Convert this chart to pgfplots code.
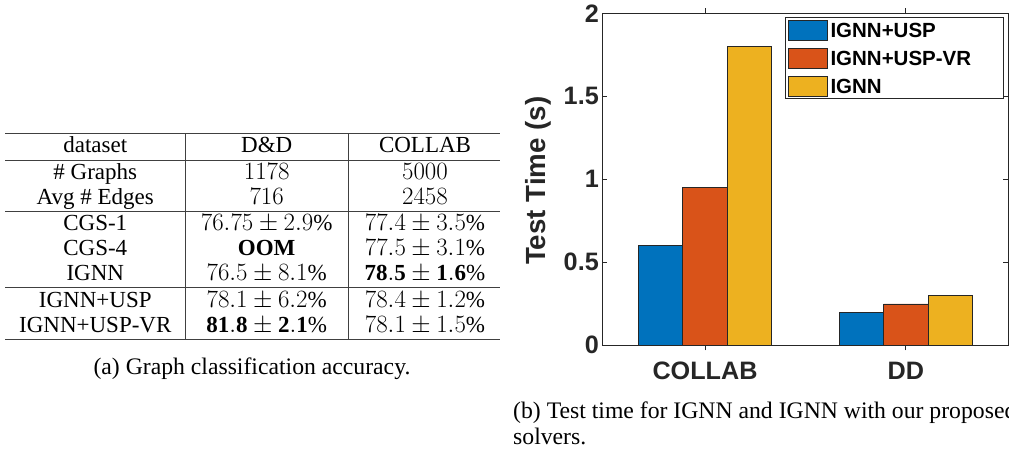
\documentclass[border=0pt]{standalone}
\usepackage{fontspec}
\setmainfont{Liberation Serif}
\newfontfamily\arial{Liberation Sans}
\usepackage{pgfplots}
\pgfplotsset{compat=1.18}
\definecolor{mb}{rgb}{0,0.447,0.741}
\definecolor{mo}{rgb}{0.85,0.325,0.098}
\definecolor{my}{rgb}{0.929,0.694,0.125}
\definecolor{axc}{rgb}{0.15,0.15,0.15}
\begin{document}
\begin{tikzpicture}
\path[use as bounding box] (0pt,0pt) rectangle (1009pt,448pt);
\clip (0pt,0pt) rectangle (1009pt,448pt);
\begin{scope}[x=1pt,y=1pt]
  % table rules
  \begin{scope}[draw=black!75, line width=1pt]
    \draw (5,314) -- (500,314);
    \draw (5,287.3) -- (500,287.3);
    \draw (5,237) -- (500,237);
    \draw (5,160.3) -- (500,160.3);
    \draw (5,108.7) -- (500,108.7);
    \draw (185.7,314) -- (185.7,108.7);
    \draw (348.3,314) -- (348.3,108.7);
  \end{scope}
  \begin{scope}[every node/.style={anchor=base, inner sep=0pt, font=\fontsize{23}{27}\selectfont}]
    \node at (95.3,295.7) {dataset};
    \node at (266.7,295.7) {D\&D};
    \node at (425,295.7) {COLLAB};
    \node at (95.3,269) {$\#$ Graphs};
    \node at (266.7,269) {$1178$};
    \node at (425,269) {$5000$};
    \node at (95.3,244) {Avg $\#$ Edges};
    \node at (266.7,244) {$716$};
    \node at (425,244) {$2458$};
    \node at (95.3,217.4) {CGS-1};
    \node at (266.7,217.4) {$76.75\pm2.9\%$};
    \node at (425,217.4) {$77.4\pm3.5\%$};
    \node at (95.3,192.4) {CGS-4};
    \node at (266.7,192.4) {\textbf{OOM}};
    \node at (425,192.4) {$77.5\pm3.1\%$};
    \node at (95.3,167.4) {IGNN};
    \node at (266.7,167.4) {$76.5\pm8.1\%$};
    \node at (425,167.4) {$\mathbf{78.5}\pm\mathbf{1.6}\%$};
    \node at (95.3,140.7) {IGNN+USP};
    \node at (266.7,140.7) {$78.1\pm6.2\%$};
    \node at (425,140.7) {$78.4\pm1.2\%$};
    \node at (95.3,115.7) {IGNN+USP-VR};
    \node at (266.7,115.7) {$\mathbf{81.8}\pm\mathbf{2.1}\%$};
    \node at (425,115.7) {$78.1\pm1.5\%$};
  \end{scope}
  \node[anchor=base, inner sep=0pt, font=\fontsize{23.7}{28}\selectfont] at (252,73.7) {(a) Graph classification accuracy.};
  \node[anchor=base west, inner sep=0pt, font=\fontsize{23.7}{28}\selectfont] at (513,29.5) {(b) Test time for IGNN and IGNN with our proposed};
  \node[anchor=base west, inner sep=0pt, font=\fontsize{23.7}{28}\selectfont] at (513,4) {solvers.};
\end{scope}
\begin{axis}[
  at={(602.3pt,102.7pt)}, anchor=south west,
  width=406pt, height=332pt, scale only axis,
  xmin=0.4885, xmax=2.5105, ymin=0, ymax=2,
  xtick={1,2}, xticklabels={COLLAB,DD},
  ytick={0,0.5,1,1.5,2},
  tick align=inside,
  major tick length=5pt,
  axis line style={axc, line width=0.8pt},
  tick style={axc, line width=0.8pt},
  ticklabel style={font=\arial\bfseries\fontsize{25.2}{26}\selectfont, text=axc},
  /pgf/number format/assume math mode=true,
  xticklabel style={yshift=-8pt},
  ylabel={Test Time (s)},
  every axis y label/.style={at={(axis description cs:-0.1576,0.4955)}, rotate=90, anchor=center, font=\arial\bfseries\fontsize{27.7}{28}\selectfont, text=axc},
  axis on top,
  ybar, bar width=0.2216,
  legend image code/.code={\draw[#1,/tikz/.cd,line width=0.6pt] (0pt,-9.1pt) rectangle (39pt,10.9pt);},
  legend style={at={(axis description cs:0.45,0.988)}, anchor=north west, draw=axc, line width=0.8pt,
    font=\arial\bfseries\fontsize{20.5}{22}\selectfont, inner sep=2.5pt, row sep=7.2pt,
    nodes={inner sep=1pt}, cells={anchor=west},
    /tikz/every odd column/.append style={column sep=2pt}},
]
\addplot[fill=mb, draw=black!85, line width=0.6pt, bar shift=-0.2216] coordinates {(1,0.6) (2,0.2)};
\addplot[fill=mo, draw=black!85, line width=0.6pt, bar shift=0] coordinates {(1,0.95) (2,0.25)};
\addplot[fill=my, draw=black!85, line width=0.6pt, bar shift=0.2216] coordinates {(1,1.8) (2,0.3)};
\legend{\makebox[169.5pt][l]{IGNN+USP},\makebox[169.5pt][l]{IGNN+USP-VR},\makebox[169.5pt][l]{IGNN}}
\end{axis}
\end{tikzpicture}
\end{document}
